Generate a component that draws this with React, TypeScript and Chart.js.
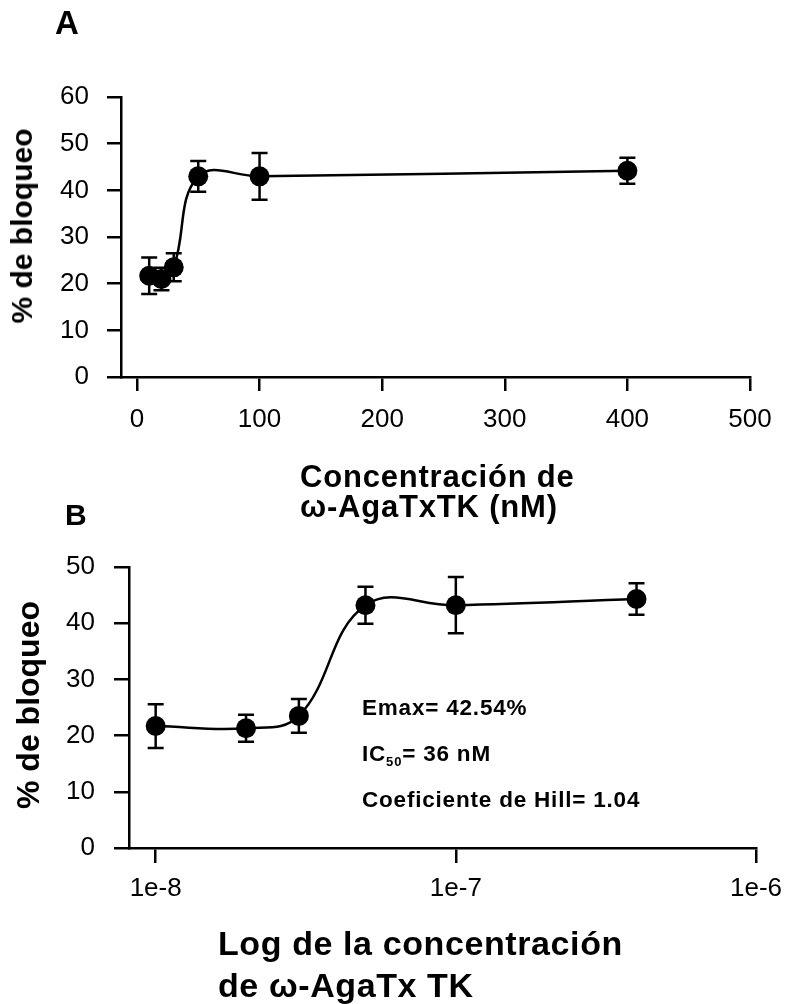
import React, { useEffect, useRef } from "react";
import { Chart, registerables } from "chart.js";

Chart.register(...registerables);

// ---------- Data ----------
// Panel A: linear concentration (nM)
const concA = [10, 20, 30, 50, 100, 400];
const blockA = [21.7, 21.0, 23.5, 43.0, 43.0, 44.2];
const errA = [3.9, 2.4, 3.0, 3.3, 5.0, 2.8];
const xTicksA = [0, 100, 200, 300, 400, 500];
const yTicksA = [0, 10, 20, 30, 40, 50, 60];

// Panel B: log concentration (M)
const concB = [1e-8, 2e-8, 3e-8, 5e-8, 1e-7, 4e-7];
const blockB = [21.7, 21.3, 23.5, 43.2, 43.2, 44.3];
const errB = [3.9, 2.4, 3.0, 3.3, 5.0, 2.8];
const xTicksB = [1e-8, 1e-7, 1e-6];
const xTickLabelsB = ["1e-8", "1e-7", "1e-6"];
const yTicksB = [0, 10, 20, 30, 40, 50];

const FONT = '"Liberation Sans", Arial, Helvetica, sans-serif';
const TICK_SIZE = 26;

const errorBarPlugin = {
  id: "errorBars",
  beforeDatasetsDraw(chart: any, _args: any, opts: any) {
    const errs: number[] = opts.errors || [];
    const ds = chart.data.datasets[0];
    const xs = chart.scales.x;
    const ys = chart.scales.y;
    const ctx = chart.ctx;
    const c = opts.cap ?? 8;
    ctx.save();
    ctx.strokeStyle = "#000";
    ctx.lineWidth = opts.lineWidth ?? 2.5;
    ds.data.forEach((p: any, i: number) => {
      const e = errs[i];
      if (!e) return;
      const x = xs.getPixelForValue(p.x);
      const y1 = ys.getPixelForValue(p.y + e);
      const y2 = ys.getPixelForValue(p.y - e);
      ctx.beginPath();
      ctx.moveTo(x, y1);
      ctx.lineTo(x, y2);
      ctx.moveTo(x - c, y1);
      ctx.lineTo(x + c, y1);
      ctx.moveTo(x - c, y2);
      ctx.lineTo(x + c, y2);
      ctx.stroke();
    });
    ctx.restore();
  },
};

const axisStyle = (tickLen: number) => ({
  grid: {
    display: true,
    drawOnChartArea: false,
    drawTicks: true,
    tickLength: tickLen,
    color: "#000",
    lineWidth: 2.5,
  },
  border: { display: true, color: "#000", width: 2.5 },
});

const lineDataset = (xs: number[], ys: number[]) => ({
  data: xs.map((x, i) => ({ x, y: ys[i] })),
  borderColor: "#000",
  borderWidth: 2.5,
  tension: 0.4,
  pointRadius: 10,
  pointHoverRadius: 10,
  pointBackgroundColor: "#000",
  pointBorderColor: "#000",
  pointBorderWidth: 0,
  fill: false,
  clip: false,
});

function configA(): any {
  return {
    type: "line",
    data: { datasets: [lineDataset(concA, blockA)] },
    options: {
      responsive: false,
      animation: false,
      devicePixelRatio: 1,
      events: [],
      layout: { padding: { top: 97, right: 42, left: 0, bottom: 0 } },
      plugins: {
        legend: { display: false },
        tooltip: { enabled: false },
        errorBars: { errors: errA, cap: 8 },
      },
      scales: {
        x: {
          type: "linear",
          min: -13,
          max: 500,
          afterBuildTicks: (s: any) => {
            s.ticks = xTicksA.map((v) => ({ value: v }));
          },
          afterFit: (s: any) => {
            s.height = 93;
          },
          ...axisStyle(14),
          ticks: {
            color: "#000",
            font: { family: FONT, size: TICK_SIZE },
            padding: 13,
            maxRotation: 0,
            autoSkip: false,
          },
        },
        y: {
          type: "linear",
          min: 0,
          max: 60,
          afterBuildTicks: (s: any) => {
            s.ticks = yTicksA.map((v) => ({ value: v }));
          },
          afterFit: (s: any) => {
            s.width = 121;
          },
          ...axisStyle(14),
          ticks: {
            color: "#000",
            font: { family: FONT, size: TICK_SIZE },
            padding: 18,
          },
        },
      },
    },
    plugins: [errorBarPlugin],
  };
}

function configB(): any {
  return {
    type: "line",
    data: { datasets: [lineDataset(concB, blockB)] },
    options: {
      responsive: false,
      animation: false,
      devicePixelRatio: 1,
      events: [],
      layout: { padding: { top: 97, right: 29, left: 0, bottom: 0 } },
      plugins: {
        legend: { display: false },
        tooltip: { enabled: false },
        errorBars: { errors: errB, cap: 8 },
      },
      scales: {
        x: {
          type: "logarithmic",
          min: 8.15e-9,
          max: 1e-6,
          afterBuildTicks: (s: any) => {
            s.ticks = xTicksB.map((v) => ({ value: v }));
          },
          afterFit: (s: any) => {
            s.height = 156;
          },
          ...axisStyle(15),
          ticks: {
            color: "#000",
            font: { family: FONT, size: TICK_SIZE },
            padding: 10,
            maxRotation: 0,
            autoSkip: false,
            callback: (_v: any, i: number) => xTickLabelsB[i],
          },
        },
        y: {
          type: "linear",
          min: 0,
          max: 50,
          afterBuildTicks: (s: any) => {
            s.ticks = yTicksB.map((v) => ({ value: v }));
          },
          afterFit: (s: any) => {
            s.width = 129;
          },
          ...axisStyle(15),
          ticks: {
            color: "#000",
            font: { family: FONT, size: TICK_SIZE },
            padding: 19,
          },
        },
      },
    },
    plugins: [errorBarPlugin],
  };
}

function ChartCanvas({ top, height, make }: { top: number; height: number; make: () => any }) {
  const ref = useRef<HTMLCanvasElement | null>(null);
  useEffect(() => {
    if (!ref.current) return;
    const chart = new Chart(ref.current, make());
    return () => chart.destroy();
  }, []);
  return (
    <canvas
      ref={ref}
      width={792}
      height={height}
      style={{ position: "absolute", left: 0, top, width: 792, height, display: "block" }}
    />
  );
}

function Txt({
  left,
  baseline,
  size,
  bold = true,
  spacing = 0,
  children,
}: {
  left: number;
  baseline: number;
  size: number;
  bold?: boolean;
  spacing?: number;
  children: any;
}) {
  return (
    <div
      style={{
        position: "absolute",
        left,
        top: baseline - 0.8465 * size,
        fontFamily: FONT,
        fontSize: size,
        fontWeight: bold ? 700 : 400,
        lineHeight: 1,
        letterSpacing: spacing,
        whiteSpace: "nowrap",
        color: "#000",
      }}
    >
      {children}
    </div>
  );
}

function VTxt({ cx, cy, size, children }: { cx: number; cy: number; size: number; children: any }) {
  return (
    <div
      style={{
        position: "absolute",
        left: cx,
        top: cy,
        transform: "translate(-50%, -50%) rotate(-90deg)",
        fontFamily: FONT,
        fontSize: size,
        fontWeight: 700,
        lineHeight: 1,
        whiteSpace: "nowrap",
        color: "#000",
      }}
    >
      {children}
    </div>
  );
}

export default function App() {
  return (
    <div
      style={{
        position: "absolute",
        left: 0,
        top: 0,
        width: 792,
        height: 1004,
        background: "#fff",
        overflow: "hidden",
      }}
    >
      <ChartCanvas top={0} height={470} make={configA} />
      <ChartCanvas top={470} height={534} make={configB} />

      <Txt left={55} baseline={34} size={33}>A</Txt>
      <VTxt cx={22} cy={226} size={30}>% de bloqueo</VTxt>
      <Txt left={300} baseline={487} size={31} spacing={0.8}>Concentración de</Txt>
      <Txt left={300} baseline={517} size={31} spacing={0.8}>ω-AgaTxTK (nM)</Txt>

      <Txt left={65} baseline={525} size={30}>B</Txt>
      <VTxt cx={28} cy={705} size={32}>% de bloqueo</VTxt>
      <Txt left={362} baseline={716} size={22.5} spacing={0.8}>Emax= 42.54%</Txt>
      <Txt left={362} baseline={762} size={22.5} spacing={0.8}>
        IC<sub style={{ fontSize: 13, verticalAlign: "-5px" }}>50</sub>= 36 nM
      </Txt>
      <Txt left={362} baseline={808} size={22.5} spacing={0.8}>Coeficiente de Hill= 1.04</Txt>
      <Txt left={218} baseline={955} size={34} spacing={0.6}>Log de la concentración</Txt>
      <Txt left={218} baseline={997} size={34} spacing={0.6}>de ω-AgaTx TK</Txt>
    </div>
  );
}
